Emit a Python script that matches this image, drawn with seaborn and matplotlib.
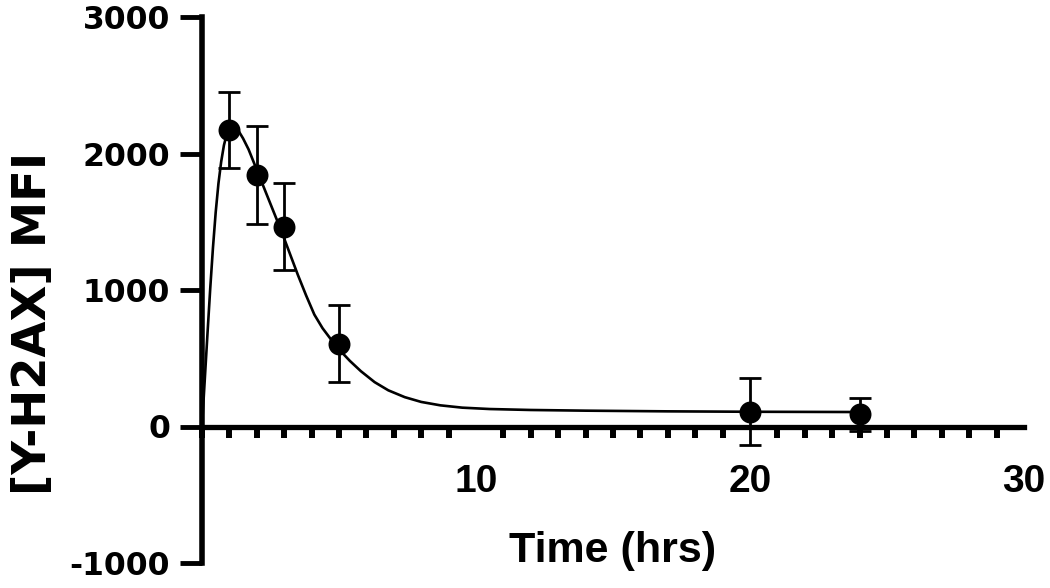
import matplotlib
matplotlib.use("Agg")
import matplotlib.pyplot as plt
from matplotlib.ticker import MultipleLocator, FixedLocator
import seaborn as sns
import pandas as pd

# ---- data ----
time_hrs = [1, 2, 3, 5, 20, 24]
mfi_mean = [2170, 1842, 1464, 608, 107, 88]
mfi_err = [277, 358, 320, 280, 245, 120]

# fitted curve
curve_x = [0, 0.1, 0.2, 0.3, 0.4, 0.5, 0.6, 0.7, 0.8, 0.9, 1.0, 1.1, 1.2,
           1.35, 1.5, 1.7, 2.0, 2.3, 2.6, 2.9, 3.2, 3.5, 3.8, 4.1, 4.4, 4.7,
           5.0, 5.4, 5.8, 6.3, 6.8, 7.4, 8.0, 8.7, 9.5, 10.5, 12, 14, 17, 20, 24]
curve_y = [0, 340, 680, 1010, 1310, 1570, 1780, 1940, 2060, 2140, 2180, 2195,
           2190, 2160, 2110, 2030, 1880, 1730, 1580, 1430, 1270, 1110, 960,
           820, 720, 640, 565, 480, 405, 325, 265, 215, 180, 155, 138, 128,
           121, 116, 111, 108, 106]

x_major = [10, 20, 30]
x_major_labels = ["10", "20", "30"]
y_ticks = [-1000, 0, 1000, 2000, 3000]
y_tick_labels = ["-1000", "0", "1000", "2000", "3000"]

x_label = "Time (hrs)"
y_label = "[Y-H2AX] MFI"

# ---- plotting ----
sns.set_theme(style="white")
plt.rcParams["font.family"] = ["Liberation Sans", "DejaVu Sans"]

fig = plt.figure(figsize=(10.5, 5.88), dpi=100)
ax = fig.add_axes([202 / 1050, 1 - 563 / 588, 822 / 1050, 546 / 588])

pts = pd.DataFrame({"t": time_hrs, "m": mfi_mean})
cur = pd.DataFrame({"t": curve_x, "m": curve_y})

sns.lineplot(data=cur, x="t", y="m", ax=ax, color="black", linewidth=1.9,
             sort=False, estimator=None, zorder=3)
ax.errorbar(time_hrs, mfi_mean, yerr=mfi_err, fmt="none", ecolor="black",
            elinewidth=2.0, capsize=8, capthick=2.0, zorder=4, clip_on=False)
sns.scatterplot(data=pts, x="t", y="m", ax=ax, color="black", s=250,
                edgecolor="black", linewidth=0, zorder=5, clip_on=False)

ax.set_xlim(0, 30)
ax.set_ylim(-1000, 3000)

for s in ["top", "right"]:
    ax.spines[s].set_visible(False)
ax.spines["bottom"].set_position(("data", 0))
ax.spines["left"].set_linewidth(4.0)
ax.spines["bottom"].set_linewidth(3.8)
ax.spines["left"].set_color("black")
ax.spines["bottom"].set_color("black")

ax.xaxis.set_major_locator(FixedLocator(x_major))
ax.set_xticklabels(x_major_labels)
ax.xaxis.set_minor_locator(MultipleLocator(1))
ax.tick_params(axis="x", which="major", direction="out", length=16, width=4.3,
               color="black", pad=11, labelsize=28, labelcolor="black")
ax.tick_params(axis="x", which="minor", direction="out", length=8, width=4.3,
               color="black", bottom=True)
for lbl in ax.get_xticklabels():
    lbl.set_fontfamily("Liberation Sans")
    lbl.set_fontweight("bold")

ax.set_yticks(y_ticks)
ax.set_yticklabels(y_tick_labels)
ax.tick_params(axis="y", which="major", direction="out", length=16, width=3.5,
               color="black", pad=7, labelsize=22.7, labelcolor="black", left=True)
for lbl in ax.get_yticklabels():
    lbl.set_fontfamily("DejaVu Sans")
    lbl.set_fontweight("bold")

ax.set_xlabel(x_label, fontsize=31, fontweight="bold", family="Liberation Sans",
              color="black")
ax.xaxis.set_label_coords(0.5, 0.058)
ax.set_ylabel(y_label, fontsize=33.5, fontweight="bold", family="DejaVu Sans",
              color="black")
ax.yaxis.set_label_coords((56 - 202) / 822, (563 - 323) / 546)

ax.grid(False)
ax.set_facecolor("white")
fig.patch.set_facecolor("white")

fig.savefig("out.png", dpi=100, facecolor="white")
